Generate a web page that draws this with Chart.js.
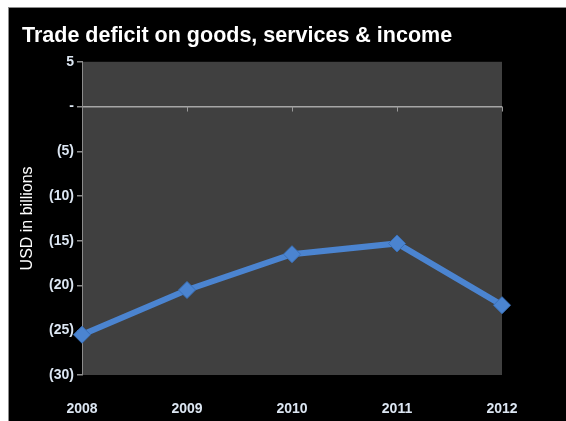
<!DOCTYPE html>
<html>
<head>
<meta charset="utf-8">
<script src="https://cdn.jsdelivr.net/npm/chart.js@4.4.0/dist/chart.umd.min.js"></script>
<style>
  html, body { margin: 0; padding: 0; background: #ffffff; }
  #wrap { position: absolute; left: 8px; top: 7px; width: 558px; height: 414px;
          background: #000; border-top: 1px solid #8c8c8c; border-left: 1px solid #8c8c8c; }
  canvas { display: block; }
</style>
</head>
<body>
<div id="wrap"><canvas id="c" width="557" height="413"></canvas></div>
<script>
const titleText = "Trade deficit on goods, services & income";
const yAxisTitle = "USD in billions";
const years = ["2008", "2009", "2010", "2011", "2012"];
const deficit = [-25.5, -20.5, -16.5, -15.3, -22.2];
const yMin = -30, yMax = 5, yStep = 5;

function fmtTick(v) {
  if (v === 0) return "-";
  if (v < 0) return "(" + Math.abs(v) + ")";
  return String(v);
}

const plotBg = {
  id: 'plotBg',
  beforeDraw(chart) {
    const {ctx, chartArea: a} = chart;
    ctx.save();
    ctx.fillStyle = '#404040';
    ctx.fillRect(a.left, a.top, a.right - a.left, a.bottom - a.top);
    ctx.restore();
  }
};

const zeroTicks = {
  id: 'zeroTicks',
  beforeDatasetsDraw(chart) {
    const {ctx} = chart;
    const xs = chart.scales.x, ys = chart.scales.y;
    const y0 = ys.getPixelForValue(0);
    ctx.save();
    ctx.strokeStyle = '#9a9a9a';
    ctx.lineWidth = 1;
    for (let i = 1; i < years.length; i++) {
      const x = Math.round(xs.getPixelForValue(i)) + 0.5;
      ctx.beginPath();
      ctx.moveTo(x, y0);
      ctx.lineTo(x, y0 + 5);
      ctx.stroke();
    }
    ctx.restore();
  }
};

new Chart(document.getElementById('c'), {
  type: 'line',
  data: {
    labels: years,
    datasets: [{
      data: deficit,
      borderColor: '#4b84d0',
      backgroundColor: '#4b84d0',
      borderWidth: 6,
      pointStyle: 'rectRot',
      pointRadius: 8.5,
      pointHoverRadius: 8.5,
      pointBorderWidth: 1,
      pointBorderColor: '#3a70b8',
      tension: 0
    }]
  },
  options: {
    responsive: false,
    animation: false,
    layout: { padding: { left: 13, right: 64, top: 0, bottom: 4 } },
    plugins: {
      legend: { display: false },
      tooltip: { enabled: false },
      title: {
        display: true,
        text: titleText,
        align: 'start',
        color: '#ffffff',
        font: { family: 'Liberation Sans, Arial, sans-serif', size: 21.5, weight: 'bold', lineHeight: 1.2 },
        padding: { top: 15, bottom: 13 }
      }
    },
    scales: {
      x: {
        offset: false,
        afterFit(scale) { scale.height = 42; },
        grid: { display: false, drawTicks: false },
        border: { display: false },
        ticks: {
          color: '#dce6f2',
          padding: 26,
          maxRotation: 0,
          font: { family: 'Liberation Sans, Arial, sans-serif', size: 14, weight: 'bold' }
        }
      },
      y: {
        min: yMin,
        max: yMax,
        afterFit(scale) { scale.width = 60; },
        grid: {
          color: (ctx) => (ctx.tick && ctx.tick.value === 0) ? '#a6a6a6' : 'rgba(0,0,0,0)',
          lineWidth: 1.5,
          tickColor: '#8c8c8c',
          tickLength: 5,
          drawTicks: true
        },
        border: { display: true, color: '#8c8c8c', width: 1 },
        title: {
          display: true,
          text: yAxisTitle,
          color: '#ffffff',
          font: { family: 'Liberation Sans, Arial, sans-serif', size: 16, lineHeight: 1 },
          padding: { top: -2, bottom: 0 }
        },
        ticks: {
          stepSize: yStep,
          color: '#dce6f2',
          padding: 3,
          callback: (v) => fmtTick(v),
          font: { family: 'Liberation Sans, Arial, sans-serif', size: 14, weight: 'bold' }
        }
      }
    }
  },
  plugins: [plotBg, zeroTicks]
});
</script>
</body>
</html>
